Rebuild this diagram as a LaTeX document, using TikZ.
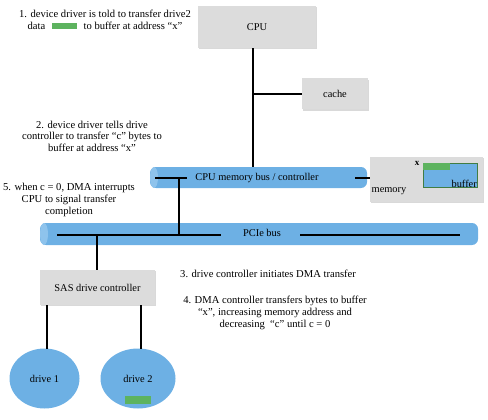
\documentclass[tikz,border=0pt]{standalone}
\usepackage{fontspec}
\setmainfont{Liberation Serif}
\usetikzlibrary{shadows,shapes.geometric}
\definecolor{boxgray}{HTML}{DCDCDC}
\definecolor{busblue}{HTML}{6DB0E4}
\definecolor{busedge}{HTML}{8EC3EC}
\definecolor{datagreen}{HTML}{5DB35F}
\tikzset{
  graybox/.style={fill=boxgray, draw=none, drop shadow={shadow xshift=0.6pt, shadow yshift=-1.4pt, opacity=0.3}, font=\fontsize{10.4}{11}\selectfont},
  wire/.style={line width=1.1pt, black},
  note/.style={font=\fontsize{10.6}{11.6}\selectfont, align=center, inner sep=0pt},
  lbl/.style={font=\fontsize{10.4}{11}\selectfont, inner sep=0pt},
  drive/.style={ellipse, fill=busblue, draw=none, font=\fontsize{10.4}{11}\selectfont},
  greenbar/.style={fill=datagreen, draw=none},
}
\begin{document}
\begin{tikzpicture}[x=1pt,y=-1pt]
\useasboundingbox (0,0) rectangle (488,420);
% notes
\node[note] (n1) at (105,20) {1. device driver is told to transfer drive2\\data \hspace{4pt}\textcolor{datagreen}{\rule[0.5pt]{25pt}{6pt}}\hspace{4pt} to buffer at address ``x''};
\node[note] (n2) at (92,136) {2. device driver tells drive\\controller to transfer ``c'' bytes to\\buffer at address ``x''};
\node[note] (n5) at (69,200) {5. when c = 0, DMA interrupts\\CPU to signal transfer\\completion};
\node[note, anchor=west] (n3) at (180,274) {3. drive controller initiates DMA transfer};
\node[note] (n4) at (275,313) {4. DMA controller transfers bytes to buffer\\``x'', increasing memory address and\\decreasing \ ``c'' until c = 0};
% boxes
\node[graybox, minimum width=118pt, minimum height=42pt] (cpu) at (257,27) {CPU};
\node[graybox, minimum width=66pt, minimum height=31pt] (cache) at (335,94) {cache};
\node[graybox, minimum width=115pt, minimum height=35pt] (sas) at (97.5,287.5) {SAS drive controller};
\node[graybox, minimum width=113pt, minimum height=45pt] (mem) at (426.5,179.5) {};
\node[lbl] (memlbl) at (389,191) {memory};
\node[lbl, font=\fontsize{9}{10}\selectfont\bfseries] (xlbl) at (417,163) {x};
\node[fill=busblue, draw=datagreen!70!black, line width=0.4pt, minimum width=54pt, minimum height=24pt, inner sep=0pt] (buf) at (450,175) {};
\fill[greenbar] (423.2,163.2) rectangle (450,170);
\node[lbl, anchor=south east] (buflbl) at (477,188) {buffer};
% buses
\fill[busblue, rounded corners=6pt] (150,167) rectangle (367,188);
\fill[busedge] (154,177.5) ellipse (4pt and 10.5pt);
\node[lbl] (membus) at (257,178) {CPU memory bus / controller};
\fill[busblue, rounded corners=6pt] (40,223) rectangle (478,245);
\fill[busedge] (44,234) ellipse (4pt and 11pt);
\node[lbl] (pcie) at (262,233) {PCIe bus};
% drives
\node[drive, minimum width=70pt, minimum height=60pt] (d1) at (44.5,378.5) {drive 1};
\node[drive, minimum width=75pt, minimum height=60pt] (d2) at (138,378.5) {drive 2};
\fill[greenbar] (125,396) rectangle (151,404);
% wires
\coordinate (mbL) at (155,178);
\coordinate (mbR) at (187,178);
\coordinate (mbJ) at (179,178);
\coordinate (pcL) at (57,235);
\coordinate (pcR) at (221,235);
\coordinate (pcJ) at (179,235);
\coordinate (pcS) at (97,235);
\coordinate (pc2L) at (300,235);
\coordinate (pc2R) at (460,235);
\coordinate (mbE) at (355,178);
\coordinate (cpuT) at (253,94);
\draw[wire] (cpu.south -| 253,0) -- (253,167);
\draw[wire] (cpuT) -- (cache.west);
\draw[wire] (mbL) -- (mbR);
\draw[wire] (mbJ) -- (pcJ);
\draw[wire] (pcL) -- (pcR);
\draw[wire] (pc2L) -- (pc2R);
\draw[wire] (pcS) -- (sas.north -| pcS);
\draw[wire] (mbE) -- (mem.west |- mbE);
\draw[wire] (sas.south -| 47,0) -- (47,349);
\draw[wire] (sas.south -| 141,0) -- (141,349);
\end{tikzpicture}
\end{document}
